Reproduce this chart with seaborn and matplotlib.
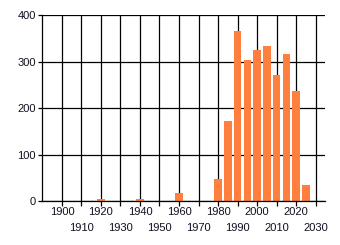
import matplotlib
matplotlib.use("Agg")
import matplotlib.pyplot as plt
import seaborn as sns
import pandas as pd

years = [1920, 1940, 1960, 1980, 1985, 1990, 1995, 2000, 2005, 2010, 2015, 2020, 2025]
counts = [4, 4, 18, 48, 172, 367, 303, 326, 333, 271, 316, 238, 35]
upper_tick_years = [1900, 1920, 1940, 1960, 1980, 2000, 2020]
lower_tick_years = [1910, 1930, 1950, 1970, 1990, 2010, 2030]
y_ticks = [0, 100, 200, 300, 400]

sns.set_style("white")
plt.rcParams['font.family'] = ['Liberation Sans', 'DejaVu Sans']

df = pd.DataFrame({"year": years, "count": counts})

fig = plt.figure(figsize=(3.4, 2.45), dpi=100)
ax = fig.add_axes([42/340, 1 - 201.3/245, (325-42)/340, (201.3-15.3)/245])

sns.barplot(data=df, x="year", y="count", native_scale=True, width=0.76,
            color="#ff7f3f", saturation=1, linewidth=0, edgecolor="none", ax=ax,
            errorbar=None)

ax.set_xlim(1889.8, 2034.8)
ax.set_ylim(0, 400)
ax.set_xticks(upper_tick_years)
ax.set_xticklabels([str(t) for t in upper_tick_years], fontsize=8, color="#101020")
ax.set_xticks(lower_tick_years, minor=True)
ax.set_xticklabels([str(t) for t in lower_tick_years], minor=True, fontsize=8, color="#101020")
ax.set_yticks(y_ticks)
ax.set_yticklabels([str(v) for v in y_ticks], fontsize=8, color="#101020")
ax.set_xlabel("")
ax.set_ylabel("")

ax.set_axisbelow(True)
ax.grid(True, which="both", axis="x", color="black", linewidth=0.9)
ax.grid(True, which="major", axis="y", color="black", linewidth=0.9)
ax.tick_params(axis="x", which="major", length=3.5, width=0.9, color="black", pad=0.5, bottom=True)
ax.tick_params(axis="x", which="minor", length=3.5, width=0.9, color="black", pad=12, bottom=True)
ax.tick_params(axis="y", length=3, width=0.9, color="black", pad=1.5, left=True)
for s in ["top", "right"]:
    ax.spines[s].set_visible(False)
for s in ["left", "bottom"]:
    ax.spines[s].set_color("black")
    ax.spines[s].set_linewidth(0.9)

fig.savefig("out.png", dpi=100)
